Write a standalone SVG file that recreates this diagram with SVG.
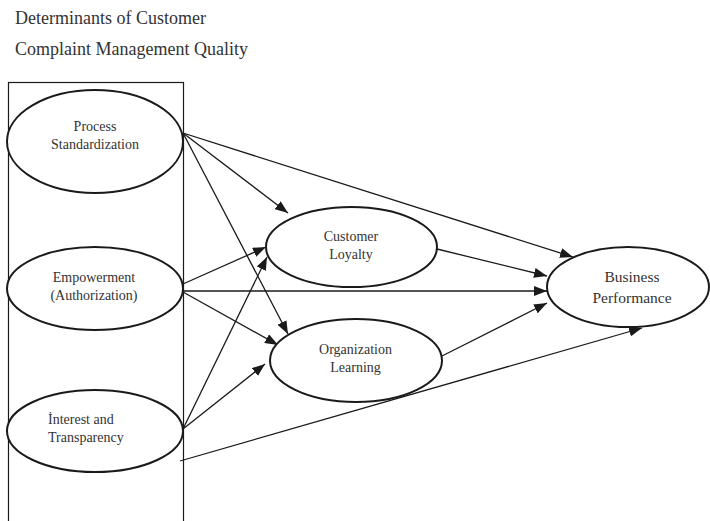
<svg xmlns="http://www.w3.org/2000/svg" width="710" height="521" viewBox="0 0 710 521">
<style>
text{font-family:"Liberation Serif","Times New Roman",serif;fill:#333}
.t{font-size:18px}
.n{font-size:14px;text-anchor:middle}
.b{font-size:15.5px;text-anchor:middle}
.e{fill:#fff;stroke:#1a1a1a;stroke-width:2}
.c line{stroke:#1a1a1a;stroke-width:1.3;marker-end:url(#ah)}
</style>
<defs>
<marker id="ah" markerUnits="userSpaceOnUse" markerWidth="13" markerHeight="10" refX="13" refY="5" orient="auto">
<path d="M0,0 L13,5 L0,10 z" fill="#1a1a1a"/>
</marker>
</defs>
<rect width="710" height="521" fill="#fff"/>
<text class="t" x="15" y="24">Determinants of Customer</text>
<text class="t" x="15" y="55">Complaint Management Quality</text>
<rect x="8.5" y="82.5" width="175" height="460" fill="none" stroke="#1a1a1a" stroke-width="1.2"/>
<g class="c">
<line x1="183" y1="133" x2="573" y2="257"/>
<line x1="183" y1="133" x2="288" y2="213"/>
<line x1="183" y1="133" x2="288" y2="334"/>
<line x1="183" y1="284" x2="266" y2="247"/>
<line x1="183" y1="291" x2="547" y2="291"/>
<line x1="183" y1="292" x2="278" y2="345"/>
<line x1="183" y1="429" x2="267" y2="257"/>
<line x1="183" y1="429" x2="265" y2="364"/>
<line x1="180" y1="461" x2="642" y2="328"/>
<line x1="437" y1="249" x2="547" y2="276"/>
<line x1="442" y1="356" x2="547" y2="303"/>
</g>
<g id="process">
<ellipse class="e" cx="95" cy="141.5" rx="88" ry="51.5"/>
<text class="n" x="95" y="131">Process</text>
<text class="n" x="95" y="149">Standardization</text>
</g>
<g id="empowerment">
<ellipse class="e" cx="95" cy="288.5" rx="88" ry="41.5"/>
<text class="n" x="94" y="282">Empowerment</text>
<text class="n" x="94" y="300">(Authorization)</text>
</g>
<g id="interest">
<ellipse class="e" cx="95" cy="431" rx="88" ry="41"/>
<text class="n" x="48" y="424" style="text-anchor:start">İnterest and</text>
<text class="n" x="48" y="442" style="text-anchor:start">Transparency</text>
</g>
<g id="loyalty">
<ellipse class="e" cx="351.5" cy="247" rx="85.5" ry="40"/>
<text class="n" x="351" y="241">Customer</text>
<text class="n" x="351" y="259">Loyalty</text>
</g>
<g id="learning">
<ellipse class="e" cx="356" cy="360.5" rx="86" ry="41.5"/>
<text class="n" x="355.5" y="354">Organization</text>
<text class="n" x="355.5" y="372">Learning</text>
</g>
<g id="performance">
<ellipse class="e" cx="628" cy="287" rx="81" ry="40"/>
<text class="b" x="632" y="282">Business</text>
<text class="b" x="632" y="303">Performance</text>
</g>
</svg>
